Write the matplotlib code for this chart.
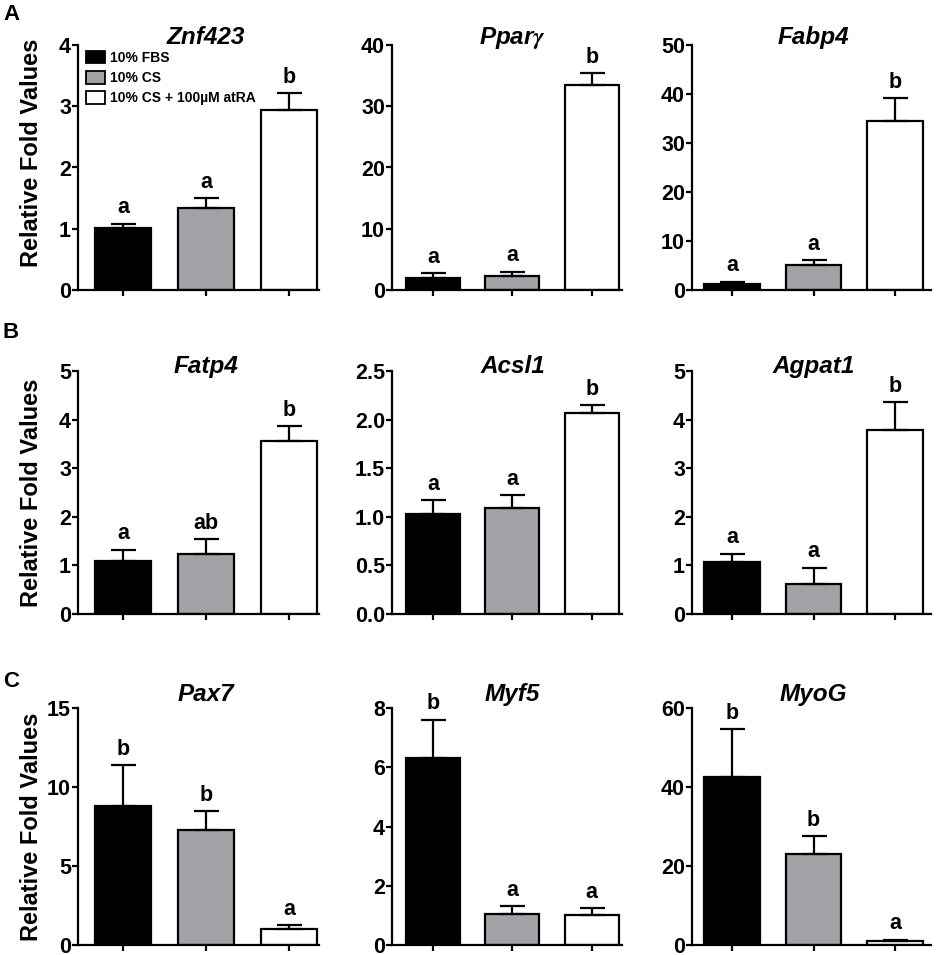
import matplotlib
matplotlib.use("Agg")
import matplotlib.pyplot as plt
from matplotlib.patches import Patch
import numpy as np

plt.rcParams['font.family'] = ['Liberation Sans', 'DejaVu Sans']
plt.rcParams['font.weight'] = 'bold'
plt.rcParams['mathtext.fontset'] = 'stix'

# ---- data ----
groups = ["10% FBS", "10% CS", "10% CS + 100\u00b5M atRA"]
bar_colors = ["#000000", "#a2a2a6", "#ffffff"]

genes = ["Znf423", "Ppar$\\gamma$", "Fabp4",
         "Fatp4", "Acsl1", "Agpat1",
         "Pax7", "Myf5", "MyoG"]

znf423_mean = [1.02, 1.34, 2.94]
znf423_err = [0.06, 0.16, 0.27]
pparg_mean = [2.0, 2.3, 33.4]
pparg_err = [0.7, 0.7, 2.0]
fabp4_mean = [1.3, 5.1, 34.4]
fabp4_err = [0.4, 1.0, 4.8]
fatp4_mean = [1.10, 1.23, 3.55]
fatp4_err = [0.22, 0.31, 0.32]
acsl1_mean = [1.03, 1.09, 2.07]
acsl1_err = [0.14, 0.13, 0.08]
agpat1_mean = [1.06, 0.62, 3.78]
agpat1_err = [0.18, 0.33, 0.58]
pax7_mean = [8.82, 7.31, 1.04]
pax7_err = [2.56, 1.15, 0.21]
myf5_mean = [6.31, 1.03, 1.00]
myf5_err = [1.29, 0.28, 0.24]
myog_mean = [42.6, 23.1, 0.93]
myog_err = [12.1, 4.5, 0.42]

means = [znf423_mean, pparg_mean, fabp4_mean, fatp4_mean, acsl1_mean,
         agpat1_mean, pax7_mean, myf5_mean, myog_mean]
errs = [znf423_err, pparg_err, fabp4_err, fatp4_err, acsl1_err,
        agpat1_err, pax7_err, myf5_err, myog_err]

letters = [["a", "a", "b"], ["a", "a", "b"], ["a", "a", "b"],
           ["a", "ab", "b"], ["a", "a", "b"], ["a", "a", "b"],
           ["b", "b", "a"], ["b", "a", "a"], ["b", "b", "a"]]

y_max = [4, 40, 50, 5, 2.5, 5, 15, 8, 60]
y_step = [1, 10, 10, 1, 0.5, 1, 5, 2, 20]

panel_labels = ["A", "B", "C"]

# ---- layout (pixels) ----
W, H = 941, 955
col_lr = [(78, 319), (392, 622), (692, 931)]
col_xlim = [(-0.542, 2.36), (-0.516, 2.38), (-0.49, 2.44)]
row_tb = [(45, 290), (371, 614), (708, 945)]
title_y = [1.004, 0.992, 1.03]
panel_label_y = [20, 338, 687]

fig = plt.figure(figsize=(W / 100, H / 100), dpi=100)

x = np.arange(3)
for i in range(9):
    r, c = divmod(i, 3)
    l, rr = col_lr[c]
    t, b = row_tb[r]
    ax = fig.add_axes([l / W, 1 - b / H, (rr - l) / W, (b - t) / H])
    ax.bar(x, means[i], width=0.68, color=bar_colors, edgecolor='black',
           linewidth=1.6, zorder=2)
    ax.errorbar(x, means[i], yerr=[np.zeros(3), errs[i]], fmt='none',
                ecolor='black', elinewidth=1.6, capsize=9, capthick=1.6,
                zorder=3)
    for j in range(3):
        top = means[i][j] + errs[i][j]
        ax.annotate(letters[i][j], (x[j], top), xytext=(0, 7.5),
                    textcoords='offset points', ha='center', va='baseline',
                    fontsize=15.5, fontweight='bold')
    ax.set_xlim(*col_xlim[c])
    ax.set_ylim(0, y_max[i])
    ax.set_yticks(np.arange(0, y_max[i] + y_step[i] / 2, y_step[i]))
    ax.set_xticks(x)
    ax.set_xticklabels([])
    ax.spines['top'].set_visible(False)
    ax.spines['right'].set_visible(False)
    ax.spines['left'].set_linewidth(1.6)
    ax.spines['bottom'].set_linewidth(1.6)
    ax.tick_params(axis='both', direction='out', length=4, width=1.6,
                   labelsize=15.5, pad=1)
    ax.text(1, title_y[r], genes[i], transform=ax.get_xaxis_transform(),
            ha='center', va='baseline', fontsize=17.5, fontweight='bold',
            fontstyle='italic')
    if c == 0:
        ax.set_ylabel("Relative Fold Values", fontsize=17, fontweight='bold')
        ax.yaxis.set_label_coords(-0.145, 0.5 if r else 0.56)
        fig.text(3 / W, 1 - panel_label_y[r] / H, panel_labels[r],
                 fontsize=16, fontweight='bold', ha='left', va='baseline')
    if i == 0:
        handles = [Patch(facecolor=bar_colors[k], edgecolor='black',
                         linewidth=1.3) for k in range(3)]
        ax.legend(handles, groups, loc='upper left',
                  bbox_to_anchor=(0.033, 0.976), frameon=False,
                  borderpad=0, borderaxespad=0, handlelength=1.35,
                  handleheight=1.0, handletextpad=0.35, labelspacing=0.45,
                  prop={'size': 10, 'weight': 'bold'})

fig.savefig("out.png", dpi=100)
